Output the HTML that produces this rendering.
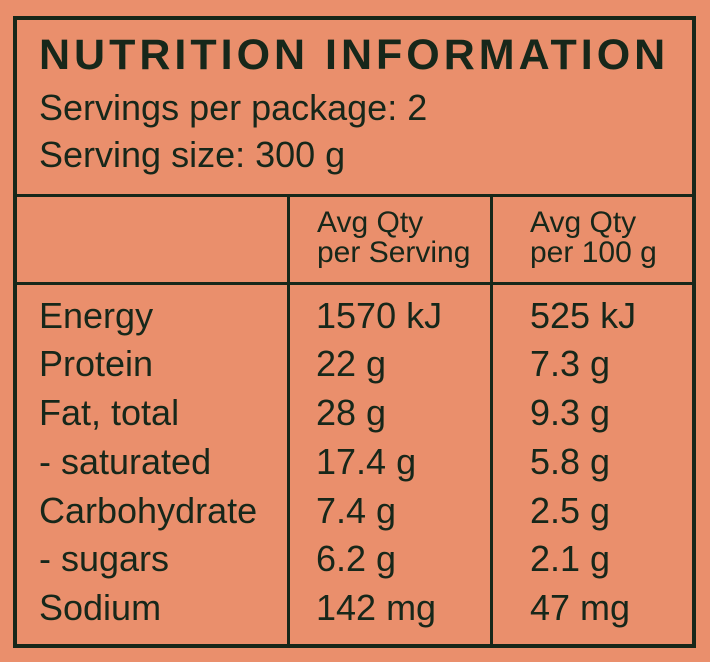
<!DOCTYPE html>
<html><head><style>
html,body{margin:0;padding:0}
body{width:710px;height:662px;background:#ea8f6c;position:relative;overflow:hidden;font-family:"Liberation Sans",Arial,sans-serif;color:#17271a}
.l{position:absolute;background:#17271a}
.t{position:absolute;white-space:nowrap;line-height:1}
.r{font-size:36px}
</style></head><body>
<div class="l" style="left:13px;top:16px;width:683px;height:4px"></div>
<div class="l" style="left:13px;top:644px;width:683px;height:4px"></div>
<div class="l" style="left:13px;top:16px;width:4px;height:632px"></div>
<div class="l" style="left:692px;top:16px;width:4px;height:632px"></div>
<div class="l" style="left:15px;top:194px;width:679px;height:3px"></div>
<div class="l" style="left:15px;top:282px;width:679px;height:3px"></div>
<div class="l" style="left:287px;top:195px;width:3px;height:451px"></div>
<div class="l" style="left:490px;top:195px;width:3px;height:451px"></div>

<div class="t" style="left:39px;top:34px;font-size:43px;font-weight:bold;letter-spacing:4px">NUTRITION INFORMATION</div>
<div class="t" style="left:39px;top:90px;font-size:36px">Servings per package: 2</div>
<div class="t" style="left:39px;top:137px;font-size:36px">Serving size: 300 g</div>

<div class="t" style="left:317px;top:208px;font-size:30px">Avg Qty</div>
<div class="t" style="left:317px;top:238px;font-size:30px">per Serving</div>
<div class="t" style="left:530px;top:208px;font-size:30px">Avg Qty</div>
<div class="t" style="left:530px;top:238px;font-size:30px">per 100 g</div>

<div class="t r" style="left:39px;top:298px">Energy</div><div class="t r" style="left:316px;top:298px">1570 kJ</div><div class="t r" style="left:530px;top:298px">525 kJ</div>
<div class="t r" style="left:39px;top:346px">Protein</div><div class="t r" style="left:316px;top:346px">22 g</div><div class="t r" style="left:530px;top:346px">7.3 g</div>
<div class="t r" style="left:39px;top:395px">Fat, total</div><div class="t r" style="left:316px;top:395px">28 g</div><div class="t r" style="left:530px;top:395px">9.3 g</div>
<div class="t r" style="left:39px;top:444px">- saturated</div><div class="t r" style="left:316px;top:444px">17.4 g</div><div class="t r" style="left:530px;top:444px">5.8 g</div>
<div class="t r" style="left:39px;top:493px">Carbohydrate</div><div class="t r" style="left:316px;top:493px">7.4 g</div><div class="t r" style="left:530px;top:493px">2.5 g</div>
<div class="t r" style="left:39px;top:541px">- sugars</div><div class="t r" style="left:316px;top:541px">6.2 g</div><div class="t r" style="left:530px;top:541px">2.1 g</div>
<div class="t r" style="left:39px;top:590px">Sodium</div><div class="t r" style="left:316px;top:590px">142 mg</div><div class="t r" style="left:530px;top:590px">47 mg</div>
</body></html>
